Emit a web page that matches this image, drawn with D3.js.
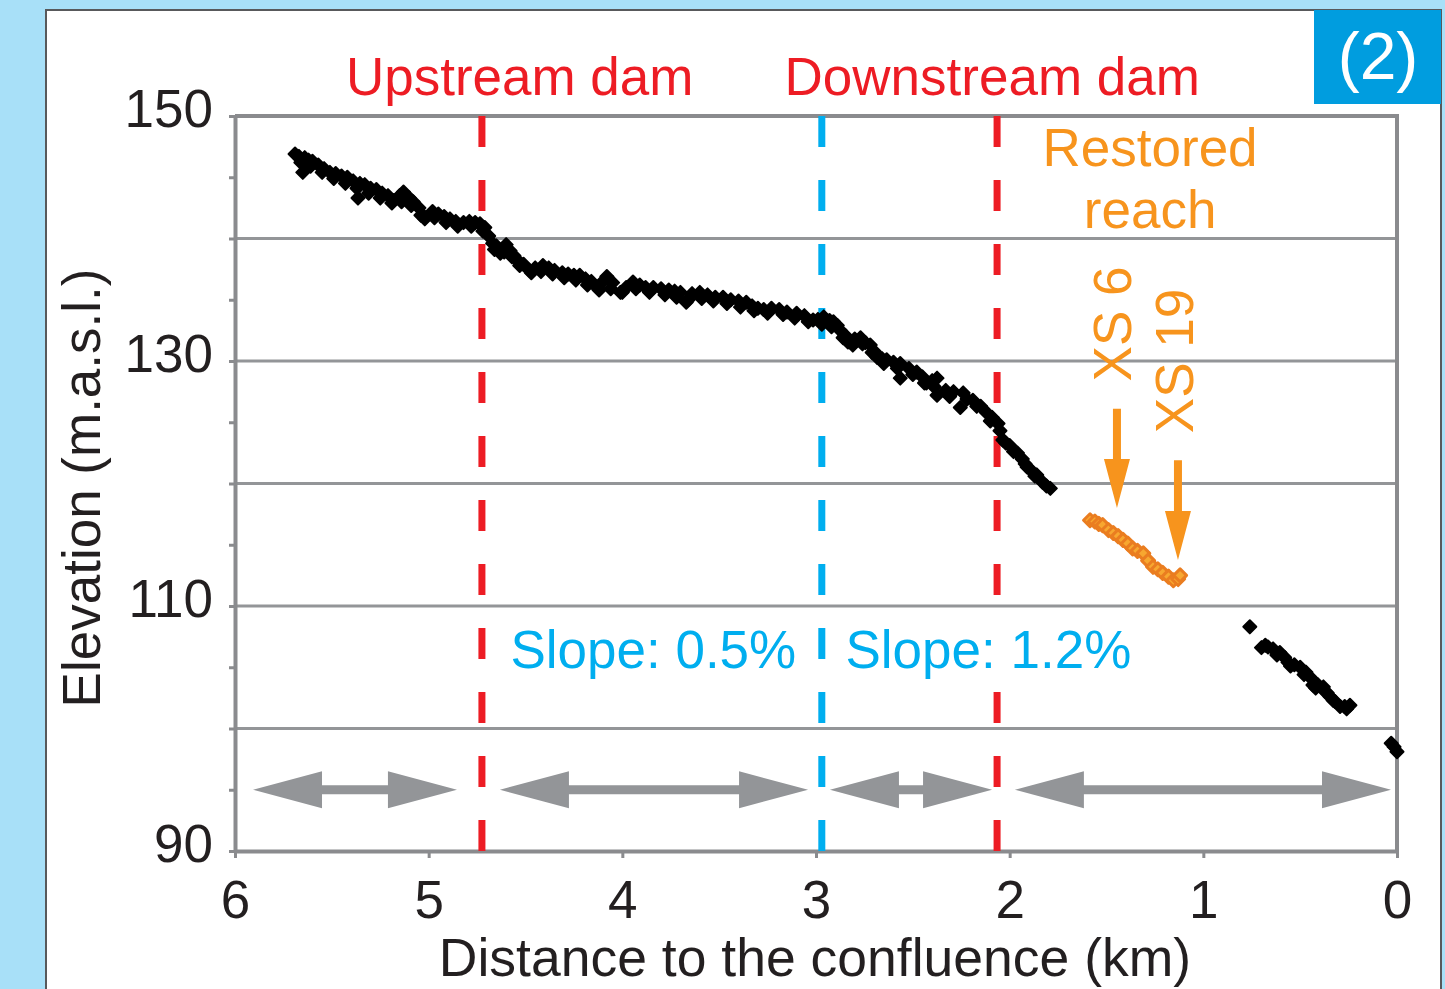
<!DOCTYPE html>
<html>
<head>
<meta charset="utf-8">
<script src="https://cdn.jsdelivr.net/npm/d3@7"></script>
<style>
  body { margin: 0; background: #a8e0f8; }
  svg { display: block; font-family: "Liberation Sans", Arial, sans-serif; }
</style>
</head>
<body>
<svg id="chart"></svg>
<script>
// surveyed longitudinal profile (km to confluence, elevation m a.s.l.)
// upper edge of the point cloud first, then the lower edge
const profileKm = [
  5.69, 5.67, 5.65, 5.64, 5.62, 5.60, 5.57, 5.54, 5.51, 5.48, 5.45, 5.42, 5.39, 5.365, 5.355, 5.33, 5.30, 5.27,
  5.24, 5.21, 5.18, 5.15, 5.13, 5.10, 5.08, 5.05, 5.03, 5.02, 4.98, 4.95, 4.92, 4.89, 4.86, 4.82, 4.79, 4.76,
  4.735, 4.71, 4.69,
  4.67, 4.65, 4.63, 4.60, 4.58, 4.56, 4.54, 4.51, 4.48, 4.45, 4.41, 4.38, 4.35, 4.31, 4.28, 4.25, 4.22, 4.19,
  4.16, 4.13, 4.10, 4.08, 4.05, 4.01, 3.98, 3.945, 3.91, 3.88, 3.84, 3.80, 3.76, 3.73, 3.70, 3.67, 3.64, 3.60,
  3.56, 3.52, 3.48, 3.44, 3.40, 3.36, 3.33, 3.30, 3.27, 3.23, 3.19, 3.15, 3.10, 3.06, 3.015,
  2.99, 2.96, 2.93, 2.91, 2.89, 2.875, 2.85, 2.835, 2.80, 2.77, 2.745, 2.72, 2.70, 2.685, 2.66, 2.635, 2.60,
  2.565, 2.565, 2.52, 2.48, 2.45, 2.43, 2.40, 2.375, 2.375, 2.33, 2.29, 2.24, 2.255, 2.19, 2.15, 2.12, 2.09,
  2.06, 2.035, 2.00, 1.96, 1.935, 1.91, 1.885, 1.86, 1.83, 1.79,
  0.76, 0.68, 0.666, 0.64, 0.605, 0.58, 0.563, 0.53, 0.50, 0.47, 0.45, 0.434, 0.41, 0.38, 0.36, 0.346, 0.32,
  0.294, 0.27, 0.243, 0.03, 0.015, 0.0,
  5.66, 5.61, 5.55, 5.49, 5.43, 5.37, 5.31, 5.25, 5.19, 5.14, 5.09, 5.04, 4.97, 4.91, 4.85, 4.78, 4.72,
  4.66, 4.61, 4.57, 4.53, 4.47, 4.42, 4.36, 4.30, 4.24, 4.18, 4.12, 4.06, 4.00, 3.93, 3.86, 3.78, 3.72, 3.66,
  3.59, 3.53, 3.46, 3.39, 3.32, 3.25, 3.17, 3.11, 3.04,
  2.97, 2.92, 2.86, 2.81, 2.76, 2.71, 2.65, 2.58, 2.50, 2.44, 2.39, 2.31, 2.22, 2.17, 2.10, 2.05, 2.02, 1.98,
  1.92, 1.87, 1.81,
  0.70, 0.62, 0.55, 0.48, 0.42, 0.37, 0.33, 0.26
];
const profileElev = [
  146.9, 146.7, 145.4, 146.6, 146.4, 146.3, 146.0, 145.7, 145.4, 145.3, 145.1, 145.0, 144.7, 143.3, 144.5, 144.4, 144.1, 144.0,
  143.7, 143.5, 143.1, 143.5, 143.8, 143.3, 143.0, 142.5, 141.9, 141.6, 142.2, 142.0, 141.8, 141.6, 141.4, 141.3, 141.4, 141.3,
  141.2, 140.9, 140.2,
  139.6, 139.4, 138.8, 139.5, 139.0, 138.6, 138.2, 137.9, 137.4, 137.6, 137.8, 137.6, 137.4, 137.2, 137.1, 137.0, 137.0, 136.7,
  136.5, 136.0, 136.5, 136.9, 136.4, 135.6, 136.0, 136.45, 136.2, 136.0, 136.0, 135.9, 135.8, 135.7, 135.6, 134.8, 135.5, 135.6,
  135.4, 135.2, 135.2, 135.0, 134.9, 134.8, 134.5, 134.3, 134.2, 134.3, 134.2, 134.0, 133.9, 133.7, 133.35,
  133.4, 133.6, 133.3, 133.2, 132.9, 132.5, 132.1, 131.55, 131.8, 131.9, 131.5, 131.3, 130.8, 130.3, 130.2, 130.1, 129.9,
  129.8, 128.6, 129.4, 129.1, 128.7, 128.2, 128.4, 128.6, 127.2, 127.6, 127.5, 127.4, 126.2, 126.8, 126.3, 125.8, 125.4,
  124.9, 123.55, 123.1, 122.5, 122.0, 121.35, 121.0, 120.7, 120.1, 119.6,
  108.3, 106.8, 106.65, 106.5, 106.2, 105.8, 105.4, 105.2, 105.0, 104.6, 104.2, 103.55, 103.6, 103.4, 102.9, 102.6, 102.2,
  101.8, 101.8, 101.9, 98.8, 98.5, 98.1,
  146.2, 145.9, 145.4, 144.9, 144.5, 144.1, 143.7, 143.3, 142.9, 143.0, 142.7, 141.9, 141.7, 141.3, 141.0, 141.0, 140.6,
  139.1, 138.9, 138.5, 137.8, 137.2, 137.3, 137.1, 136.8, 136.6, 136.2, 135.8, 135.9, 135.6, 135.9, 135.6, 135.4, 135.2, 135.0,
  135.1, 134.9, 134.7, 134.4, 134.1, 133.9, 133.8, 133.5, 133.2,
  133.0, 132.8, 131.9, 131.3, 131.4, 130.7, 129.8, 129.4, 128.9, 128.2, 127.9, 127.1, 126.9, 126.3, 125.1, 124.3, 123.3, 122.6,
  121.6, 120.6, 119.8,
  106.6, 106.0, 105.1, 104.4, 103.3, 103.0, 102.3, 101.6
];

// restored reach points
const restoredKm = [1.585, 1.56, 1.54, 1.52, 1.49, 1.465, 1.44, 1.415, 1.39, 1.365, 1.34, 1.31, 1.285, 1.26, 1.235, 1.21, 1.18, 1.155, 1.13, 1.12];
const restoredElev = [117.0, 116.9, 116.7, 116.6, 116.2, 115.96, 115.7, 115.4, 115.1, 114.7, 114.5, 114.3, 113.7, 113.2, 113.0, 112.7, 112.4, 112.1, 112.2, 112.5];

const xTicks = [6, 5, 4, 3, 2, 1, 0];
const yTicks = [90, 95, 100, 105, 110, 115, 120, 125, 130, 135, 140, 145, 150];
const yLabelled = [90, 110, 130, 150];
const yGrid = [100, 110, 120, 130, 140];

const damKm = [4.725, 2.065];
const damNames = ["Upstream dam", "Downstream dam"];
const damLabelKm = [4.53, 2.09];
const breakKm = 2.97;
const slopeLabels = ["Slope: 0.5%", "Slope: 1.2%"];
const slopeLabelKm = [3.84, 2.11];

// reach extents drawn as double-headed arrows
const reachStart = [5.907, 4.632, 2.928, 1.973];
const reachEnd = [4.854, 3.041, 2.091, 0.031];

const xsNames = ["XS 6", "XS 19"];
const xsKm = [1.446, 1.131];
const xsTop = [126.1, 121.9];
const xsTip = [118.0, 113.76];

const W = 1445, H = 989;
const svg = d3.select("#chart").attr("width", W).attr("height", H);

const x = d3.scaleLinear().domain([6, 0]).range([235, 1397]);
const y = d3.scaleLinear().domain([90, 150]).range([851, 116]);

const gray = "#8a8b8e", red = "#ed1c24", blue = "#00aeef", orange = "#f7941d";
const fs = "53px";

// white panel
svg.append("rect").attr("x", 46).attr("y", 10).attr("width", 1395).attr("height", H)
  .attr("fill", "#fff").attr("stroke", "#58595b").attr("stroke-width", 2);

// badge
svg.append("rect").attr("x", 1314).attr("y", 10).attr("width", 127).attr("height", 94).attr("fill", "#009ddf");
svg.append("text").attr("x", 1378).attr("y", 79).attr("text-anchor", "middle")
  .attr("fill", "#fff").style("font-size", "66px").text("(2)");

// gridlines
svg.append("g").selectAll("line").data(yGrid).enter().append("line")
  .attr("x1", x(6)).attr("x2", x(0))
  .attr("y1", d => y(d)).attr("y2", d => y(d))
  .attr("stroke", "#939598").attr("stroke-width", 3);

// frame top + right
svg.append("path")
  .attr("d", `M${x(6)},${y(150)}H${x(0)}V${y(90)}`)
  .attr("fill", "none").attr("stroke", gray).attr("stroke-width", 4);

// axes
const yAxis = svg.append("g").attr("transform", `translate(${x(6)},0)`)
  .call(d3.axisLeft(y).tickValues(yTicks).tickSize(6).tickSizeOuter(0)
    .tickFormat(d => yLabelled.includes(d) ? d : ""));
const xAxis = svg.append("g").attr("transform", `translate(0,${y(90)})`)
  .call(d3.axisBottom(x).tickValues(xTicks).tickSize(7).tickSizeOuter(0).tickFormat(d3.format("d")));

[yAxis, xAxis].forEach(g => {
  g.select(".domain").attr("stroke", gray).attr("stroke-width", 4);
  g.selectAll(".tick line").attr("stroke", gray).attr("stroke-width", 3);
  g.selectAll(".tick text").attr("fill", "#231f20").style("font-size", fs)
    .style("font-family", "'Liberation Sans', Arial, sans-serif");
});
yAxis.selectAll(".tick text").attr("x", -22).attr("dy", 10);
xAxis.selectAll(".tick text").attr("y", 67).attr("dy", 0);

// axis titles
svg.append("text").attr("x", 815).attr("y", 976).attr("text-anchor", "middle")
  .attr("fill", "#231f20").style("font-size", "53.5px")
  .text("Distance to the confluence (km)");
svg.append("text").attr("transform", "translate(100,488) rotate(-90)").attr("text-anchor", "middle")
  .attr("fill", "#231f20").style("font-size", fs)
  .text("Elevation (m.a.s.l.)");

// reach arrows
const headLen = 69, headHalf = 18.5, shaft = 4.5;
const arrows = svg.append("g");
reachStart.forEach((s, i) => {
  const x0 = x(s), x1 = x(reachEnd[i]), yc = y(95);
  arrows.append("path")
    .attr("d", `M${x0},${yc}L${x0 + headLen},${yc - headHalf}V${yc - shaft}H${x1 - headLen}V${yc - headHalf}` +
      `L${x1},${yc}L${x1 - headLen},${yc + headHalf}V${yc + shaft}H${x0 + headLen}V${yc + headHalf}Z`)
    .attr("fill", "#939598");
});

// dam and break lines
damKm.forEach(d => {
  svg.append("line").attr("x1", x(d)).attr("x2", x(d)).attr("y1", y(150)).attr("y2", y(90))
    .attr("stroke", red).attr("stroke-width", 7).attr("stroke-dasharray", "31,33");
});
svg.append("line").attr("x1", x(breakKm)).attr("x2", x(breakKm)).attr("y1", y(150)).attr("y2", y(90))
  .attr("stroke", blue).attr("stroke-width", 7).attr("stroke-dasharray", "31,33");

damNames.forEach((t, i) => {
  svg.append("text").attr("x", x(damLabelKm[i])).attr("y", 95).attr("text-anchor", "middle")
    .attr("fill", red).style("font-size", fs).text(t);
});
slopeLabels.forEach((t, i) => {
  const lbl = svg.append("text").attr("x", x(slopeLabelKm[i])).attr("y", y(104.9)).attr("text-anchor", "middle")
    .attr("fill", blue).style("font-size", fs).text(t);
  const bb = lbl.node().getBBox();
  svg.insert("rect", () => lbl.node())
    .attr("x", bb.x).attr("y", bb.y + 4).attr("width", bb.width).attr("height", bb.height - 8)
    .attr("fill", "#fff");
});

// restored reach labels
svg.append("text").attr("x", x(1.275)).attr("y", y(145.9)).attr("text-anchor", "middle")
  .attr("fill", orange).style("font-size", fs).text("Restored");
svg.append("text").attr("x", x(1.275)).attr("y", y(140.86)).attr("text-anchor", "middle")
  .attr("fill", orange).style("font-size", fs).text("reach");

const xsLabelY = [324, 361], xsLabelX = [1131, 1193];
xsNames.forEach((t, i) => {
  svg.append("text").attr("transform", `translate(${xsLabelX[i]},${xsLabelY[i]}) rotate(-90)`)
    .attr("text-anchor", "middle").attr("fill", orange).style("font-size", fs).text(t);
  const cx = x(xsKm[i]), yt = y(xsTop[i]), yp = y(xsTip[i]);
  const yb = yp - 49;
  svg.append("path")
    .attr("d", `M${cx - 4},${yt}H${cx + 4}V${yb}H${cx + 13}L${cx},${yp}L${cx - 13},${yb}H${cx - 4}Z`)
    .attr("fill", orange);
});

// markers
const diamond = "M0,-6.5L6.5,0L0,6.5L-6.5,0Z";
svg.append("g").selectAll("path").data(profileKm).enter().append("path")
  .attr("d", diamond)
  .attr("transform", (d, i) => `translate(${x(d)},${y(profileElev[i])})`)
  .attr("fill", "#000").attr("stroke", "#000").attr("stroke-width", 2).attr("stroke-linejoin", "round");

svg.append("g").selectAll("path").data(restoredKm).enter().append("path")
  .attr("d", diamond)
  .attr("transform", (d, i) => `translate(${x(d)},${y(restoredElev[i])})`)
  .attr("fill", "#f7a730").attr("stroke", "#ea7d20").attr("stroke-width", 3).attr("stroke-linejoin", "round");
</script>
</body>
</html>
